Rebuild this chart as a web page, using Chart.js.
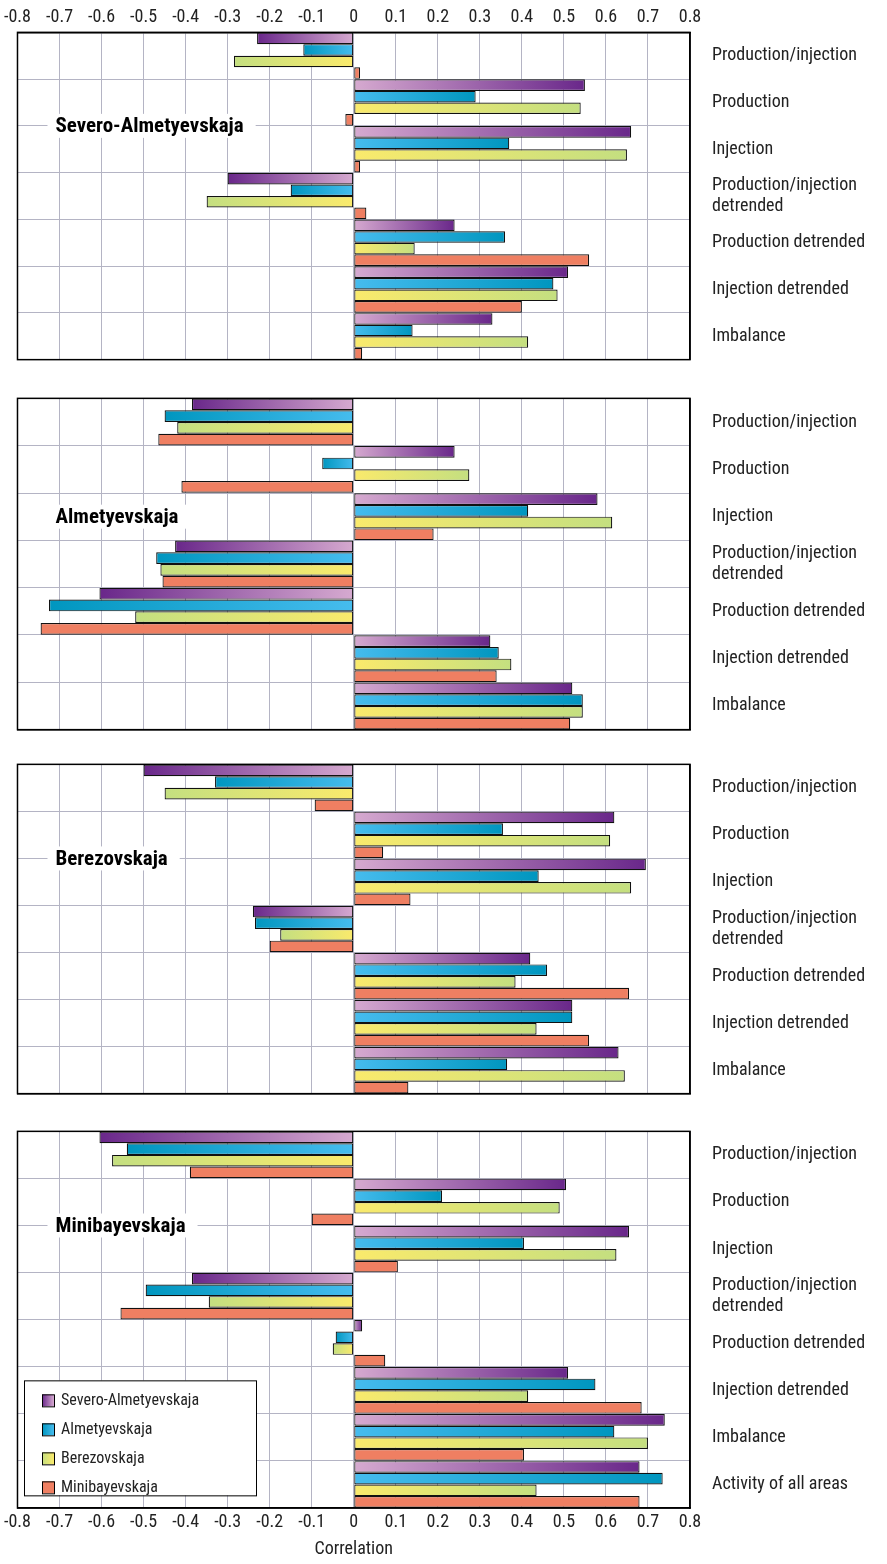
<!DOCTYPE html>
<html>
<head>
<meta charset="utf-8">
<script src="https://cdn.jsdelivr.net/npm/chart.js@4/dist/chart.umd.min.js"></script>
<style>
  body { margin: 0; background: #fff; width: 887px; height: 1564px; position: relative; overflow: hidden; }
  .pane { position: absolute; left: 0; width: 887px; }
</style>
</head>
<body>
<div class="pane" style="top:0;height:392px"><canvas id="c1"></canvas></div>
<div class="pane" style="top:366px;height:396px"><canvas id="c2"></canvas></div>
<div class="pane" style="top:732px;height:394px"><canvas id="c3"></canvas></div>
<div class="pane" style="top:1099px;height:465px"><canvas id="c4"></canvas></div>
<script>
const seriesNames = ["Severo-Almetyevskaja", "Almetyevskaja", "Berezovskaja", "Minibayevskaja"];
const catsBase = ["Production/injection", "Production", "Injection", ["Production/injection", "detrended"],
  "Production detrended", "Injection detrended", "Imbalance"];
const catsLast = catsBase.concat(["Activity of all areas"]);
const xTicks = [-0.8, -0.7, -0.6, -0.5, -0.4, -0.3, -0.2, -0.1, 0, 0.1, 0.2, 0.3, 0.4, 0.5, 0.6, 0.7, 0.8];

// values per panel: [series][category]
const severoVals = [
  [-0.23, 0.55, 0.66, -0.30, 0.24, 0.51, 0.33],
  [-0.12, 0.29, 0.37, -0.15, 0.36, 0.475, 0.14],
  [-0.285, 0.54, 0.65, -0.35, 0.145, 0.485, 0.415],
  [0.015, -0.02, 0.015, 0.03, 0.56, 0.40, 0.02]
];
const almetVals = [
  [-0.385, 0.24, 0.58, -0.425, -0.605, 0.325, 0.52],
  [-0.45, -0.075, 0.415, -0.47, -0.725, 0.345, 0.545],
  [-0.42, 0.275, 0.615, -0.46, -0.52, 0.375, 0.545],
  [-0.465, -0.41, 0.19, -0.455, -0.745, 0.34, 0.515]
];
const berezVals = [
  [-0.50, 0.62, 0.695, -0.24, 0.42, 0.52, 0.63],
  [-0.33, 0.355, 0.44, -0.235, 0.46, 0.52, 0.365],
  [-0.45, 0.61, 0.66, -0.175, 0.385, 0.435, 0.645],
  [-0.093, 0.07, 0.135, -0.20, 0.655, 0.56, 0.13]
];
const miniVals = [
  [-0.605, 0.505, 0.655, -0.385, 0.02, 0.51, 0.74, 0.68],
  [-0.54, 0.21, 0.405, -0.495, -0.043, 0.575, 0.62, 0.735],
  [-0.575, 0.49, 0.625, -0.345, -0.05, 0.415, 0.70, 0.435],
  [-0.39, -0.10, 0.105, -0.555, 0.075, 0.685, 0.405, 0.68]
];

// base colour near zero, tip colour at bar end
const baseCol = ["#d6aad0", "#46bcee", "#faea6c", "#ef7f62"];
const tipCol = ["#69278a", "#0096bf", "#c4df80", "#ef7f62"];
const FONT = "'Liberation Sans Narrow', 'Roboto Condensed', 'Liberation Sans', sans-serif";

function barFill(i) {
  return (ctx) => {
    const chart = ctx.chart;
    const x = chart.scales.x;
    if (!chart.chartArea || !x || ctx.raw == null) return baseCol[i];
    const x0 = x.getPixelForValue(0), x1 = x.getPixelForValue(ctx.raw);
    if (Math.abs(x1 - x0) < 1) return baseCol[i];
    const g = chart.ctx.createLinearGradient(x0, 0, x1, 0);
    g.addColorStop(0, baseCol[i]);
    g.addColorStop(1, tipCol[i]);
    return g;
  };
}

const groupLabel = {
  id: "groupLabel",
  afterDatasetsDraw(chart, args, opts) {
    const { ctx, chartArea, scales } = chart;
    const y = scales.y.getPixelForValue(opts.at);
    ctx.save();
    ctx.font = "bold 21px " + FONT;
    const w = ctx.measureText(opts.text).width;
    ctx.fillStyle = "#fff";
    ctx.fillRect(chartArea.left + 30, y - 12, w + 20, 24);
    ctx.fillStyle = "#000";
    ctx.textBaseline = "middle";
    ctx.fillText(opts.text, chartArea.left + 38, y + 1);
    if (opts.legend) {
      const lx = 24, ly = chartArea.top + 249, lw = 232, lh = 115;
      ctx.fillStyle = "#fff";
      ctx.fillRect(lx, ly, lw, lh);
      ctx.strokeStyle = "#000";
      ctx.lineWidth = 1;
      ctx.strokeRect(lx + 0.5, ly + 0.5, lw, lh);
      ctx.font = "16px " + FONT;
      seriesNames.forEach((n, i) => {
        const yy = ly + 20 + i * 29;
        const g = ctx.createLinearGradient(lx + 18, 0, lx + 30, 0);
        g.addColorStop(0, tipCol[i]); g.addColorStop(1, baseCol[i]);
        ctx.fillStyle = g;
        ctx.fillRect(lx + 18, yy - 6, 12, 12);
        ctx.strokeRect(lx + 18.5, yy - 5.5, 12, 12);
        ctx.fillStyle = "#222";
        ctx.fillText(n, lx + 37, yy + 1);
      });
    }
    ctx.restore();
  }
};

function makeChart(id, cats, vals, name, at, opts) {
  const { top, bottom, legend } = opts;
  return new Chart(document.getElementById(id), {
    type: "bar",
    data: {
      labels: cats,
      datasets: vals.map((v, i) => ({
        label: seriesNames[i],
        data: v,
        backgroundColor: barFill(i),
        borderColor: "#111",
        borderWidth: 1.2,
        borderSkipped: false,
        barPercentage: 1,
        categoryPercentage: 0.99
      }))
    },
    options: {
      indexAxis: "y",
      responsive: true,
      maintainAspectRatio: false,
      animation: false,
      layout: { padding: { left: 16, top: top ? 0 : 30, bottom: bottom ? 4 : 1 } },
      plugins: {
        legend: { display: false },
        tooltip: { enabled: false },
        groupLabel: { text: name, at: at, legend: legend }
      },
      scales: {
        x: {
          position: top ? "top" : "bottom",
          min: -0.8, max: 0.8,
          afterBuildTicks: (s) => { s.ticks = xTicks.map((v) => ({ value: v })); },
          afterFit: (s) => { s.height = top ? 31 : (bottom ? 52 : 0); },
          ticks: {
            display: top || bottom,
            color: "#222",
            font: { family: FONT, size: 18 },
            padding: 4,
            maxRotation: 0,
            callback: (v) => (Math.round(v * 10) / 10).toString()
          },
          title: { display: !!bottom, text: "Correlation", color: "#222", font: { family: FONT, size: 18 }, padding: 0 },
          grid: { color: "#b4b4c4", lineWidth: 1, drawTicks: false },
          border: { color: "#000", width: 1.5 }
        },
        y: {
          position: "right",
          afterFit: (s) => { s.width = 197; },
          ticks: {
            color: "#222",
            font: { family: FONT, size: 18, lineHeight: 1.15 },
            padding: 22,
            crossAlign: "near"
          },
          grid: { offset: true, color: "#b4b4c4", lineWidth: 1, drawTicks: false },
          border: { color: "#000", width: 1.5 }
        }
      }
    },
    plugins: [groupLabel, {
      id: "frame",
      afterDraw(chart) {
        const a = chart.chartArea, c = chart.ctx;
        c.save(); c.strokeStyle = "#000"; c.lineWidth = 1.5;
        c.strokeRect(a.left, a.top, a.right - a.left, a.bottom - a.top);
        c.restore();
      }
    }]
  });
}

makeChart("c1", catsBase, severoVals, "Severo-Almetyevskaja", 1.5, { top: true });
makeChart("c2", catsBase, almetVals, "Almetyevskaja", 2, {});
makeChart("c3", catsBase, berezVals, "Berezovskaja", 1.5, {});
makeChart("c4", catsLast, miniVals, "Minibayevskaja", 1.5, { bottom: true, legend: true });
</script>
</body>
</html>
